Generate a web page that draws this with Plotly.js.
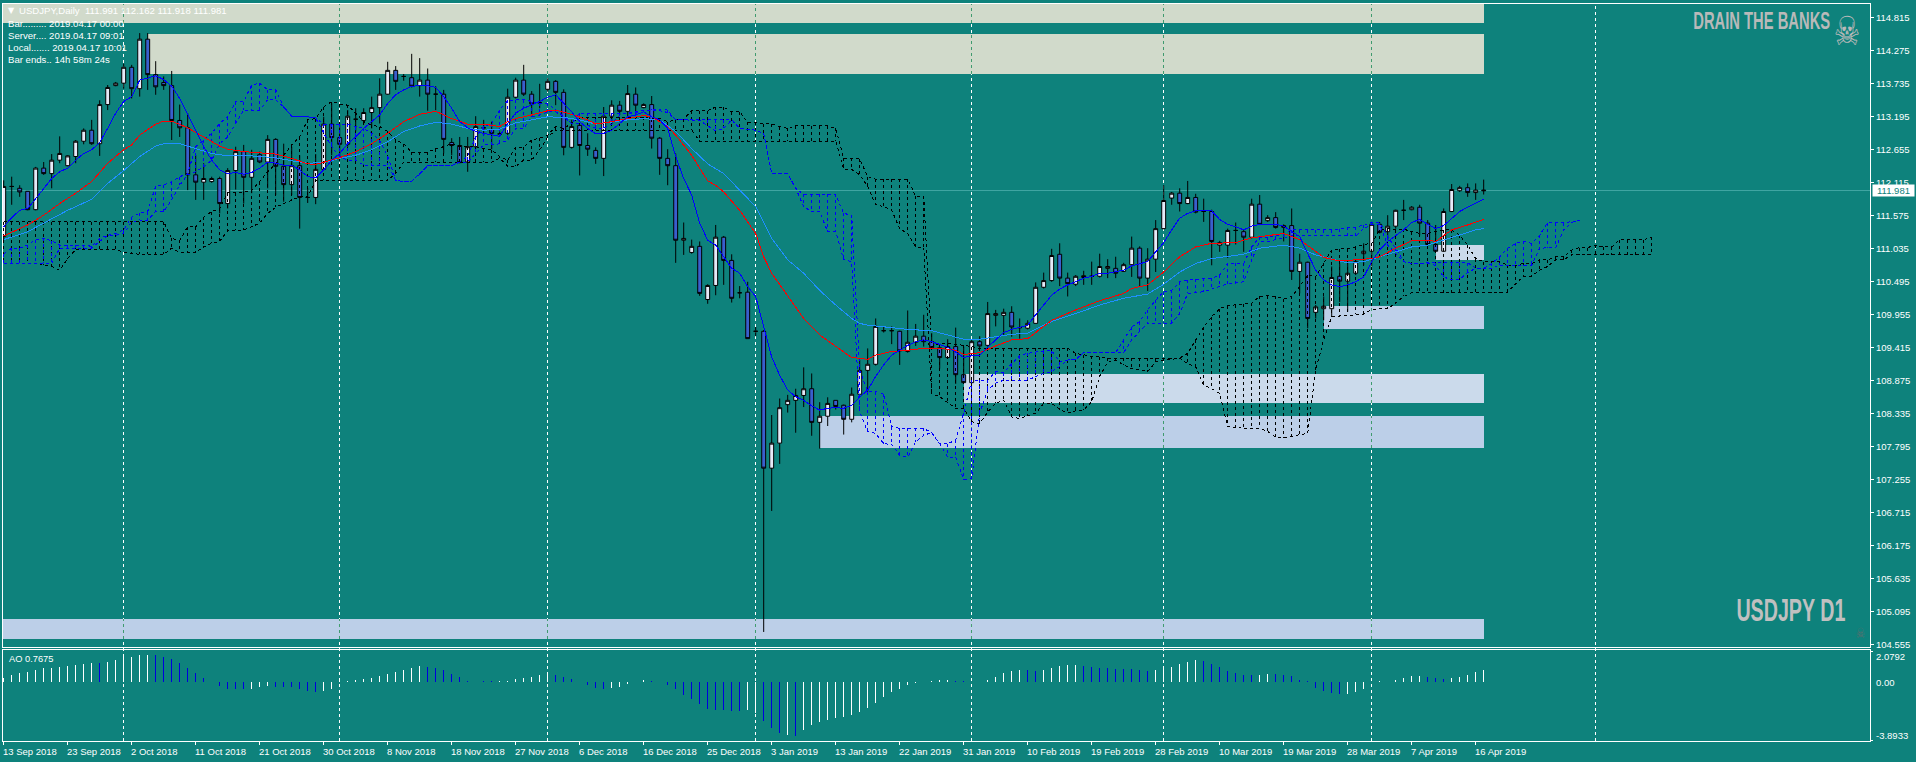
<!DOCTYPE html>
<html><head><meta charset="utf-8">
<script src="https://cdn.plot.ly/plotly-3.0.1.min.js"></script>
<style>html,body{margin:0;padding:0;background:#0e827c;overflow:hidden}
#chart .scatterlayer path,#chart .shapelayer path{shape-rendering:crispEdges}</style>
</head><body><div id="chart" style="width:1916px;height:762px"></div>
<script>
const openP=[
111.23,112.05,112.02,111.97,111.67,112.35,112.26,112.48,112.39,112.54,
112.79,112.97,112.75,113.39,113.70,113.74,114.00,113.65,114.46,113.88,
113.75,113.70,113.13,113.01,112.24,112.12,112.13,112.18,111.77,112.31,
112.62,112.20,112.57,112.45,112.82,112.38,112.08,112.39,111.87,111.87,
112.33,113.07,112.85,112.74,113.15,113.13,113.26,113.34,113.56,113.95,
113.85,113.83,113.70,113.79,113.56,113.56,112.77,112.72,112.45,112.70,
113.01,112.98,112.91,112.92,113.51,113.79,113.56,113.42,113.64,113.77,
113.59,112.69,113.05,112.72,112.64,112.51,113.20,113.38,113.28,113.56,
113.34,113.39,112.84,112.51,112.39,111.17,110.97,111.07,110.20,110.43,
111.22,110.84,110.31,110.32,109.68,109.68,107.44,107.85,108.48,108.55,
108.63,108.74,108.19,108.29,108.55,108.47,108.24,108.65,109.04,109.14,
109.69,109.69,109.68,109.35,109.50,109.60,109.51,109.41,109.25,109.43,
108.97,108.84,109.51,109.45,109.94,109.94,109.99,109.74,109.73,109.81,
110.40,110.51,110.94,110.55,110.45,110.56,110.58,110.58,110.71,110.71,
110.66,110.77,111.04,110.55,110.86,111.36,111.86,111.94,111.77,111.87,
111.64,111.64,111.09,111.09,111.33,111.31,111.22,111.76,111.49,111.54,
111.38,111.41,110.66,110.81,109.99,110.05,110.05,110.58,110.50,110.63,
110.95,110.99,111.43,111.31,111.40,111.66,111.67,111.71,111.45,111.10,
110.99,111.64,111.98,112.03,111.95,111.991];
const closeP=[
112.05,112.05,111.96,111.67,112.35,112.26,112.48,112.59,112.55,112.79,
112.97,112.75,113.39,113.67,113.74,114.00,113.65,114.46,113.88,113.68,
113.70,113.13,113.01,112.24,112.12,112.18,112.18,111.77,112.31,112.62,
112.20,112.51,112.45,112.82,112.38,112.08,112.39,111.87,111.87,112.33,
113.07,112.85,112.74,113.20,113.15,113.26,113.34,113.56,113.95,113.77,
113.85,113.69,113.79,113.56,113.56,112.82,112.72,112.44,112.70,113.03,
113.01,112.92,112.91,113.51,113.79,113.56,113.40,113.42,113.77,113.59,
112.69,113.03,112.72,112.66,112.51,113.20,113.38,113.28,113.57,113.38,
113.39,112.84,112.51,112.39,111.17,111.20,111.07,110.30,110.43,111.22,
110.84,110.22,110.31,109.56,109.68,107.44,107.85,108.43,108.55,108.63,
108.74,108.19,108.29,108.50,108.45,108.24,108.65,109.04,109.14,109.76,
109.69,109.69,109.36,109.50,109.60,109.51,109.41,109.25,109.43,108.97,
108.84,109.51,109.44,109.97,109.97,109.99,109.75,109.74,109.81,110.40,
110.51,110.92,110.55,110.46,110.58,110.59,110.58,110.74,110.74,110.63,
110.77,111.04,110.55,110.86,111.36,111.82,111.94,111.77,111.87,111.63,
111.64,111.15,111.13,111.33,111.33,111.22,111.76,111.43,111.54,111.38,
111.41,110.66,110.81,109.89,110.08,110.09,110.56,110.50,110.63,110.82,
110.99,111.43,111.30,111.40,111.66,111.66,111.71,111.45,111.10,110.99,
111.64,112.00,112.03,111.95,111.99,111.981];
const highP=[
112.15,112.21,112.07,111.97,112.37,112.45,112.58,112.87,112.56,112.81,
113.00,113.14,113.46,113.71,113.76,114.06,114.04,114.56,114.56,114.10,
113.85,113.94,113.39,113.25,112.56,112.43,112.21,112.21,112.35,112.70,
112.73,112.65,112.62,112.89,112.84,112.75,112.70,112.56,112.02,112.58,
113.19,113.41,113.08,113.30,113.33,113.33,113.52,113.82,114.09,114.02,
113.89,114.22,114.15,113.98,113.69,113.63,112.84,112.86,112.86,113.20,
113.14,113.11,112.95,113.65,113.83,114.04,113.61,113.73,113.82,113.79,
113.64,113.14,113.05,112.92,112.69,113.35,113.46,113.45,113.71,113.67,
113.41,113.53,112.86,112.66,112.59,111.46,111.18,111.15,110.45,111.42,
111.24,110.94,110.42,110.49,109.75,109.70,108.31,108.58,108.64,108.74,
109.09,108.99,108.52,108.60,108.55,108.48,108.76,109.21,109.40,109.89,
109.75,109.76,109.69,110.02,109.80,109.95,109.65,109.43,109.55,109.74,
109.43,109.55,109.60,110.16,110.03,110.05,110.09,109.89,109.86,110.48,
110.64,111.03,111.12,110.64,110.60,110.67,110.82,110.95,110.86,110.90,
110.80,111.23,111.07,111.04,111.50,112.07,111.96,112.02,112.14,111.93,
111.85,111.67,111.16,111.36,111.46,111.35,111.85,111.91,111.58,111.63,
111.43,111.69,110.95,110.82,110.11,110.25,110.74,110.79,110.82,110.85,
111.12,111.47,111.47,111.58,111.67,111.83,111.73,111.75,111.50,111.42,
111.69,112.09,112.06,112.10,112.10,112.162];
const lowP=[
111.17,111.75,111.88,111.66,111.66,112.24,112.02,112.43,112.38,112.43,
112.74,112.73,112.55,113.30,113.69,113.65,113.49,113.52,113.63,113.55,
113.63,112.81,112.86,111.99,111.83,111.83,112.11,111.61,111.69,112.00,
111.77,111.94,112.43,112.02,111.91,111.80,111.91,111.36,111.78,111.76,
112.32,112.56,112.54,112.70,112.95,113.08,113.00,113.08,113.55,113.63,
113.78,113.67,113.52,113.29,113.30,112.59,112.56,112.43,112.29,112.67,
112.89,112.66,112.87,112.89,113.49,113.53,113.19,113.33,113.60,113.38,
112.56,112.67,112.23,112.55,112.42,112.22,113.08,113.22,113.14,113.22,
113.33,112.67,112.24,112.07,110.80,110.93,110.95,110.26,110.13,110.27,
110.44,110.15,110.22,109.56,109.60,104.76,106.74,107.51,108.35,108.02,
108.44,107.97,107.76,108.13,108.40,107.99,108.19,108.64,108.69,109.12,
109.66,109.47,109.13,109.33,109.44,109.43,109.40,109.07,109.24,108.82,
108.84,108.83,109.40,109.43,109.76,109.62,109.59,109.56,109.71,109.81,
110.38,110.49,110.42,110.25,110.42,110.44,110.44,110.56,110.55,110.55,
110.65,110.57,110.42,110.34,110.65,111.35,111.75,111.64,111.76,111.61,
111.47,110.76,110.98,110.88,111.10,110.98,111.20,111.42,111.47,111.36,
111.15,110.52,110.30,109.73,109.89,109.86,109.92,110.16,110.00,110.60,
110.76,110.74,111.28,111.18,111.36,111.50,111.66,111.25,111.09,110.98,
110.98,111.63,111.96,111.88,111.83,111.918];
const maFast=[
111.39,111.54,111.66,111.69,111.85,112.02,112.18,112.29,112.35,112.48,
112.59,112.65,112.77,113.00,113.25,113.44,113.52,113.79,113.83,113.86,
113.80,113.69,113.49,113.22,112.95,112.70,112.48,112.32,112.26,112.28,
112.25,112.28,112.35,112.45,112.43,112.40,112.40,112.32,112.21,112.19,
112.32,112.48,112.59,112.75,112.86,113.00,113.11,113.22,113.41,113.55,
113.63,113.69,113.70,113.70,113.67,113.52,113.33,113.11,113.01,112.95,
112.92,112.89,112.87,113.08,113.25,113.33,113.38,113.44,113.51,113.55,
113.41,113.27,113.11,113.00,112.91,112.92,112.97,113.08,113.19,113.22,
113.27,113.19,113.14,113.00,112.54,112.18,111.91,111.45,111.17,111.09,
110.90,110.71,110.63,110.41,110.25,109.73,109.26,108.96,108.72,108.61,
108.55,108.46,108.39,108.42,108.43,108.42,108.47,108.60,108.72,108.94,
109.13,109.29,109.37,109.45,109.51,109.54,109.51,109.47,109.42,109.34,
109.25,109.28,109.29,109.42,109.54,109.66,109.71,109.74,109.78,109.95,
110.11,110.27,110.37,110.44,110.49,110.55,110.58,110.63,110.63,110.65,
110.68,110.75,110.78,110.82,110.98,111.13,111.34,111.53,111.61,111.65,
111.65,111.65,111.51,111.43,111.39,111.34,111.40,111.43,111.43,111.43,
111.40,111.31,111.23,110.95,110.68,110.52,110.44,110.41,110.44,110.49,
110.57,110.82,111.01,111.15,111.25,111.34,111.46,111.51,111.43,111.36,
111.41,111.53,111.64,111.71,111.77,111.84];
const maRedIdx=[0,3,5,7,9,11,13,15,16,17,19,20,21,23,25,27,28,30,32,34,36,38,39,41,42,44,46,48,50,52,54,56,58,60,62,63,64,66,68,69,71,73,74,76,78,80,81,83,84,86,88,89,90,92,94,95,96,98,100,102,104,106,107,108,109,111,113,115,117,119,120,122,124,126,128,131,134,137,140,141,143,145,147,149,151,154,156,158,160,162,164,165,167,171,172,174,176,178,179,181,183,185];
const maRed=[111.24,111.42,111.58,111.77,111.94,112.13,112.43,112.65,112.73,112.89,113.07,113.12,113.12,113.01,112.86,112.71,112.66,112.62,112.60,112.58,112.51,112.42,112.41,112.49,112.52,112.62,112.75,112.92,113.11,113.23,113.28,113.16,113.07,113.07,113.03,113.11,113.16,113.22,113.29,113.30,113.23,113.14,113.07,113.11,113.16,113.21,113.19,113.03,112.89,112.56,112.14,112.07,111.96,111.66,111.28,110.90,110.63,110.25,109.89,109.62,109.43,109.25,109.24,109.22,109.29,109.35,109.37,109.40,109.40,109.37,109.30,109.33,109.44,109.54,109.56,109.86,110.03,110.18,110.30,110.38,110.44,110.65,110.90,111.06,111.12,111.13,111.21,111.25,111.28,111.18,110.98,110.89,110.83,110.87,110.90,111.04,111.16,111.17,111.15,111.34,111.42,111.51];
const maSlowIdx=[0,3,5,8,11,13,15,17,19,20,22,24,26,28,30,32,34,36,38,40,42,44,46,48,50,52,54,56,58,60,62,64,66,68,70,72,74,76,78,80,82,84,86,88,90,92,94,96,98,100,102,104,106,107,108,111,113,116,118,120,122,124,126,128,131,134,137,140,143,145,147,149,151,155,157,160,162,164,166,168,170,172,176,178,180,182,184,185];
const maSlow=[111.18,111.31,111.45,111.66,111.84,112.10,112.31,112.54,112.71,112.75,112.75,112.67,112.59,112.55,112.56,112.54,112.52,112.47,112.43,112.44,112.51,112.56,112.65,112.78,112.95,113.04,113.10,113.07,113.00,112.97,112.99,113.09,113.14,113.19,113.18,113.14,113.07,113.11,113.14,113.16,113.14,112.95,112.67,112.42,112.26,111.99,111.72,111.20,110.85,110.63,110.35,110.11,109.89,109.81,109.78,109.74,109.71,109.69,109.62,109.55,109.55,109.59,109.63,109.65,109.84,109.97,110.11,110.22,110.29,110.45,110.65,110.79,110.87,110.94,111.04,111.09,111.04,110.93,110.86,110.80,110.82,110.90,111.06,111.09,111.17,111.25,111.34,111.36];
const blackTop=[
111.47,111.47,111.47,111.47,111.47,111.47,111.47,111.47,111.47,111.47,
111.47,111.47,111.47,111.47,111.47,111.47,111.47,111.47,111.47,111.47,
111.47,111.20,111.17,111.39,111.39,111.55,111.64,111.69,111.95,111.95,
111.96,111.99,112.13,112.29,112.43,112.56,112.73,112.86,113.14,113.16,
113.35,113.44,113.40,113.38,113.25,113.11,113.05,113.03,112.95,112.81,
112.75,112.61,112.61,112.61,112.67,112.70,112.75,112.70,112.70,112.70,
112.67,112.65,112.54,112.48,112.69,112.69,112.81,112.84,112.89,113.03,
113.00,113.08,113.18,113.18,113.18,113.18,113.18,113.18,113.18,113.18,
113.18,113.16,113.16,113.11,113.14,113.15,113.29,113.29,113.29,113.35,
113.35,113.27,113.27,113.10,113.10,113.08,113.07,113.03,113.00,113.04,
113.04,113.04,113.04,113.04,113.00,112.51,112.51,112.50,112.21,112.17,
112.17,112.17,112.17,112.17,111.89,111.89,109.43,109.48,109.48,109.47,
109.45,109.43,109.40,109.40,109.40,109.40,109.40,109.40,109.40,109.40,
109.40,109.40,109.40,109.40,109.32,109.29,109.27,109.26,109.24,109.24,
109.24,109.24,109.24,109.24,109.24,109.24,109.24,109.24,109.32,109.54,
109.75,109.92,110.05,110.10,110.11,110.13,110.14,110.25,110.26,110.25,
110.21,110.25,110.41,110.60,110.57,110.79,111.01,111.03,111.03,111.06,
111.10,111.12,111.34,111.36,111.34,111.35,111.31,111.28,111.28,111.31,
111.34,111.34,111.25,111.09,110.87,110.82,110.82,110.82,110.76,110.76,
110.79,110.79,110.85,110.85,110.90,110.90,111.01,111.05,111.05,111.09,
111.06,111.06,111.18,111.18,111.18,111.18,111.22];
const blackBottom=[
110.79,110.79,110.79,110.79,110.79,110.76,110.74,110.68,110.87,111.02,
111.02,111.02,111.02,111.02,111.02,110.97,110.95,110.94,110.94,110.94,
110.94,111.04,110.97,110.97,110.97,111.06,111.12,111.15,111.33,111.33,
111.34,111.39,111.45,111.61,111.71,111.77,111.83,111.88,111.88,112.15,
112.15,112.15,112.15,112.15,112.15,112.15,112.15,112.15,112.15,112.26,
112.45,112.45,112.45,112.45,112.45,112.45,112.45,112.45,112.45,112.45,
112.45,112.45,112.51,112.38,112.38,112.48,112.48,112.65,112.86,112.97,
112.97,112.97,112.97,112.97,112.97,112.97,112.97,112.97,112.97,112.97,
112.97,112.97,112.97,112.97,112.97,112.97,112.97,112.79,112.79,112.79,
112.79,112.79,112.79,112.79,112.79,112.79,112.79,112.79,112.79,112.79,
112.79,112.79,112.79,112.79,112.79,112.33,112.33,112.24,112.05,111.75,
111.72,111.66,111.36,111.28,111.06,111.05,108.66,108.61,108.52,108.42,
108.42,108.20,108.17,108.36,108.50,108.55,108.28,108.25,108.30,108.34,
108.50,108.50,108.40,108.34,108.38,108.39,108.53,108.94,109.18,109.21,
109.13,109.07,109.05,109.02,109.18,109.21,109.22,109.24,109.15,109.10,
108.80,108.74,108.66,108.12,108.11,108.09,108.09,108.09,108.04,107.95,
107.94,107.96,107.99,108.01,109.05,109.54,109.92,109.93,109.95,109.96,
109.96,110.04,110.05,110.05,110.14,110.25,110.31,110.31,110.31,110.31,
110.31,110.31,110.31,110.31,110.31,110.31,110.31,110.31,110.32,110.46,
110.58,110.58,110.68,110.74,110.85,110.85,110.93,110.93,110.93,110.93,
110.93,110.93,110.93,110.93,110.93,110.93,110.93];
const blueTop=[
110.95,111.04,111.04,111.09,111.18,111.20,111.16,111.09,111.09,111.09,
111.09,111.07,111.20,111.25,111.28,111.34,111.55,111.61,111.64,112.06,
112.07,112.13,112.21,112.26,112.70,112.81,112.92,113.08,113.19,113.44,
113.44,113.71,113.74,113.63,113.63,113.35,113.20,113.19,113.19,113.17,
113.07,113.07,113.07,113.07,113.03,113.00,112.92,112.81,112.54,112.15,
112.13,112.13,112.26,112.39,112.39,112.39,112.39,112.45,112.54,112.86,
113.03,113.08,113.30,113.46,113.47,113.47,113.44,113.41,113.41,113.30,
113.19,113.08,113.25,113.25,113.25,113.25,113.25,113.25,113.25,113.25,
113.27,113.31,113.31,113.30,113.14,113.14,113.14,113.13,113.13,113.13,
113.13,113.14,113.00,112.99,112.97,112.92,112.26,112.26,112.26,112.02,
111.92,111.92,111.92,111.92,111.92,111.61,111.58,109.05,108.69,108.69,
108.66,108.12,108.09,108.09,108.09,108.09,108.02,107.84,107.84,107.90,
108.34,108.88,108.88,108.88,109.02,109.00,109.15,109.28,109.32,109.34,
109.36,109.36,109.18,109.21,109.22,109.33,109.33,109.33,109.33,109.33,
109.54,109.75,109.84,110.03,110.19,110.33,110.35,110.49,110.52,110.53,
110.55,110.55,110.60,110.79,110.79,110.79,111.06,111.22,111.22,111.24,
111.28,111.34,111.34,111.34,111.34,111.34,111.34,111.35,111.38,111.38,
111.42,111.46,111.46,111.23,111.04,110.82,110.79,110.80,110.80,110.80,
110.80,110.80,110.80,110.80,110.71,110.71,110.79,110.90,111.04,111.12,
111.15,111.12,111.25,111.46,111.46,111.46,111.47,111.50];
const blueBottom=[
110.79,110.79,110.79,110.79,110.79,110.79,110.79,111.04,111.04,111.04,
111.04,111.04,111.15,111.25,111.25,111.28,111.47,111.50,111.50,111.64,
111.64,111.83,112.07,112.24,112.29,112.37,112.48,112.75,112.86,113.08,
113.30,113.30,113.30,113.47,113.47,113.35,113.20,113.19,113.19,113.17,
112.92,112.70,112.54,112.48,112.48,112.40,112.40,112.40,112.40,112.15,
112.13,112.13,112.26,112.39,112.39,112.39,112.39,112.45,112.45,112.59,
112.73,112.73,112.75,112.81,113.00,113.00,113.19,113.22,113.27,113.27,
113.19,113.08,113.08,113.05,113.00,113.00,113.07,113.22,113.26,113.27,
113.30,113.30,113.29,113.26,113.14,113.14,113.14,113.13,113.04,112.96,
113.00,113.14,113.00,112.99,112.97,112.92,112.26,112.26,112.26,112.02,
111.72,111.64,111.64,111.31,111.31,110.85,110.82,108.36,108.04,108.01,
107.84,107.83,107.65,107.62,107.87,107.98,108.02,107.84,107.62,107.62,
107.25,107.27,108.34,108.72,108.83,108.88,108.88,108.88,108.88,108.94,
108.99,109.02,109.10,109.21,109.22,109.33,109.33,109.33,109.33,109.33,
109.33,109.54,109.67,109.81,109.81,109.81,109.81,109.97,110.30,110.31,
110.33,110.37,110.41,110.46,110.47,110.49,110.85,111.15,111.15,111.18,
111.22,111.24,111.24,111.24,111.24,111.24,111.24,111.24,111.24,111.24,
111.36,111.43,111.43,111.09,110.95,110.82,110.79,110.79,110.79,110.76,
110.57,110.52,110.53,110.64,110.71,110.71,110.71,110.76,110.76,110.75,
110.75,110.76,111.04,111.05,111.05,111.34,111.46,111.50];
const aoValues=[
.27,.47,.61,.72,.81,.94,.94,1.03,1.10,1.17,
1.21,1.30,1.30,1.37,1.50,1.82,1.71,1.82,1.82,1.82,
1.68,1.55,1.28,.94,.61,.27,0,-.25,-.47,-.47,
-.47,-.47,-.31,-.27,-.34,-.34,-.34,-.47,-.61,-.65,
-.61,-.47,.20,.09,.13,.20,.27,.40,.54,.67,
.81,.94,1.08,1.01,.94,.81,.54,.34,.07,0,
.07,.07,.07,.07,.20,.27,.34,.47,.61,.47,
.34,.20,0,-.20,-.40,-.47,-.40,-.34,-.13,0,
.13,.07,0,-.20,-.47,-.88,-1.14,-1.48,-1.82,-1.89,
-1.89,-1.95,-1.95,-1.89,-2.04,-2.63,-3.10,-3.43,-3.57,-3.64,
-3.23,-2.90,-2.69,-2.56,-2.42,-2.36,-2.22,-2.02,-1.75,-1.41,
-1.01,-.67,-.47,-.20,-.07,0,.07,.18,.18,.11,
.07,0,.04,.18,.34,.61,.74,.81,.81,.74,
.81,.94,1.08,1.14,1.14,1.08,1.01,.94,.94,.88,
.88,.88,.81,.74,.81,1.01,1.01,1.21,1.35,1.48,
1.41,1.21,1.01,.74,.61,.47,.47,.47,.54,.54,
.47,.40,.13,.07,-.40,-.61,-.74,-.81,-.81,-.67,
-.47,0,.07,0,.13,.27,.40,.40,.34,.27,
.20,.27,.34,.47,.67,.81];
const aoKinds="wwwwwwwwww"+"wwbwwwwwwb"+"bbbbbbwbbb"+"bwwwbbbbbb"+"wwwwwwwwww"+"wwwbbbbbbw"+"bbwwwwwwwb"+"bbwbbbwwww"+"wbwbbbbbbb"+"bbbwwbbbwb"+"wwwwwwwwww"+"wwwwwwwwwb"+"bwwwwwwwbb"+"wwwwwbbbbb"+"bbbbwwwwww"+"bbbbbbbwwb"+"bbbbbbbbww"+"wwwwwwwwbb"+"bwwwww";
const dateLabels=["13 Sep 2018","23 Sep 2018","2 Oct 2018","11 Oct 2018","21 Oct 2018","30 Oct 2018","8 Nov 2018","18 Nov 2018","27 Nov 2018","6 Dec 2018","16 Dec 2018","25 Dec 2018","3 Jan 2019","13 Jan 2019","22 Jan 2019","31 Jan 2019","10 Feb 2019","19 Feb 2019","28 Feb 2019","10 Mar 2019","19 Mar 2019","28 Mar 2019","7 Apr 2019","16 Apr 2019"];
const dateIdx=[0,8,16,24,32,40,48,56,64,72,80,88,96,104,112,120,128,136,144,152,160,168,176,184];
const priceTicks=[104.555,105.095,105.635,106.175,106.715,107.255,107.795,108.335,108.875,109.415,109.955,110.495,111.035,111.575,112.115,112.655,113.195,113.735,114.275,114.815];
const monthLines=[15,42,68,94,121,145,171,199];
const zoneX0=[-0.09,18,179,165,120,102,-0.09];
const zoneX1=[185,185,185,185,185,185,185];
const zoneY0=[114.72,113.89,110.85,109.72,108.51,107.77,104.64];
const zoneY1=[115.05,114.55,111.09,110.09,108.98,108.30,104.97];
const zoneColors=["#d1dacb","#d1dacb","#cbdaeb","#bccfe8","#cbdaeb","#bccfe8","#bccfe8"];
const lastPrice=111.981;

const TEAL="#0e827c",WHITE="#ffffff",GREEN="#3f9a6e",FONT="Liberation Sans, Arial, sans-serif";
const px=x=>(x-3)/1867, py=y=>(741-y)/738;
const idx=a=>a.map((_,i)=>i);
function hatch(top,bottom){const x=[],y=[];top.forEach((t,i)=>{x.push(i,i,null);y.push(t,bottom[i],null);});return {x,y};}
const dash="3px,3px";
const hb=hatch(blackTop,blackBottom),hu=hatch(blueTop,blueBottom);
const line=(x,y,color,d)=>({type:"scatter",mode:"lines",x,y,xaxis:"x",yaxis:"y",hoverinfo:"skip",showlegend:false,line:{color,width:1,dash:d||"solid"}});
const traces=[
 {type:"candlestick",x:idx(openP),open:openP,high:highP,low:lowP,close:closeP,xaxis:"x",yaxis:"y",width:.52,whiskerwidth:0,showlegend:false,hoverinfo:"skip",
  increasing:{line:{color:"#000000",width:1},fillcolor:"#e6eaf8"},decreasing:{line:{color:"#000000",width:1},fillcolor:"#3a5fcd"}},
 line(hb.x,hb.y,"#000000",dash),line(idx(blackTop),blackTop,"#000000",dash),line(idx(blackBottom),blackBottom,"#000000",dash),
 line(hu.x,hu.y,"#0000ff",dash),line(idx(blueTop),blueTop,"#0000ff",dash),line(idx(blueBottom),blueBottom,"#0000ff",dash),
 line(maSlowIdx,maSlow,"#1e90ff"),line(maRedIdx,maRed,"#ff0000"),line(idx(maFast),maFast,"#0000ff"),
 {type:"bar",x:idx(aoValues),y:aoValues,xaxis:"x",yaxis:"y2",width:.13,showlegend:false,hoverinfo:"skip",
  marker:{color:aoValues.map((_,i)=>aoKinds[i]==="w"?"#ffffff":"#0000dd"),line:{width:0}}}
];
const shapes=[];
monthLines.forEach(m=>shapes.push({type:"line",layer:"below",xref:"x",yref:"paper",x0:m,x1:m,y0:0,y1:1,line:{color:WHITE,width:1,dash}}));
zoneX0.forEach((_,k)=>shapes.push({type:"rect",layer:"below",xref:"x",yref:"y",x0:zoneX0[k],x1:zoneX1[k],y0:zoneY0[k],y1:zoneY1[k],fillcolor:zoneColors[k],line:{width:0}}));
zoneX0.forEach((_,k)=>monthLines.forEach(m=>{if(m>zoneX0[k]&&m<zoneX1[k])shapes.push({type:"line",layer:"below",xref:"x",yref:"y",x0:m,x1:m,y0:zoneY0[k],y1:zoneY1[k],line:{color:GREEN,width:1,dash}});}));
shapes.push({type:"line",layer:"below",xref:"paper",yref:"y",x0:0,x1:1,y0:lastPrice,y1:lastPrice,line:{color:"#3fa5a2",width:1}});
shapes.push({type:"rect",xref:"paper",yref:"paper",x0:px(2.5),x1:px(1870),y0:py(647.3),y1:py(3),line:{color:WHITE,width:1}});
shapes.push({type:"rect",xref:"paper",yref:"paper",x0:px(2.5),x1:px(1870),y0:py(741),y1:py(649.7),line:{color:WHITE,width:1}});
const note=(x,y,text,size,color,family,extra)=>Object.assign({xref:"paper",yref:"paper",x:px(x),y:py(y),text,showarrow:false,xanchor:"left",yanchor:"middle",font:{size,color,family:family||FONT},borderpad:0},extra||{});
const annotations=[
 note(7,10.7,"▼",8,WHITE,"DejaVu Sans"),
 note(18,10.7,"USDJPY,Daily&nbsp;&nbsp;111.991 112.162 111.918 111.981",9.6,WHITE),
 note(7.3,23.7,"Bar......... 2019.04.17 00:00",9.6,WHITE),
 note(7.3,35.7,"Server.... 2019.04.17 09:01",9.6,WHITE),
 note(7.3,47.7,"Local....... 2019.04.17 10:01",9.6,WHITE),
 note(7.3,59.7,"Bar ends.. 14h 58m 24s",9.6,WHITE),
 note(1761.4,21,"<b>DRAIN THE BANKS</b>",23,"#b9b9b9",FONT,{xanchor:"center"}),
 note(1847,31,"☠",40,"#b9b9b9","DejaVu Sans",{xanchor:"center"}),
 note(1790.5,610.3,"<b>USDJPY D1</b>",31,"#c0c0c0",FONT,{xanchor:"center"}),
 note(1860,632.7,"☠",14,"#5b6f6f","DejaVu Sans",{xanchor:"center"}),
 note(7.5,659,"AO 0.7675",9.3,WHITE),
 {xref:"paper",yref:"y",x:px(1872),y:lastPrice,text:"111.981",showarrow:false,xanchor:"left",yanchor:"middle",bgcolor:WHITE,width:41,height:11,borderpad:0,font:{size:9.5,color:TEAL,family:FONT}},
 {xref:"paper",yref:"y2",x:px(1874),y:2.0792,yshift:-5,text:"2.0792",showarrow:false,xanchor:"left",font:{size:9.5,color:WHITE,family:FONT}},
 {xref:"paper",yref:"y2",x:px(1874),y:0,text:"0.00",showarrow:false,xanchor:"left",font:{size:9.5,color:WHITE,family:FONT}},
 {xref:"paper",yref:"y2",x:px(1874),y:-3.8933,yshift:5,text:"-3.8933",showarrow:false,xanchor:"left",font:{size:9.5,color:WHITE,family:FONT}}
];
dateLabels.forEach((t,k)=>annotations.push({xref:"x",yref:"paper",x:dateIdx[k],y:py(751),text:t,showarrow:false,xanchor:"left",yanchor:"middle",xshift:-3,font:{size:9.5,color:WHITE,family:FONT}}));
const layout={width:1916,height:762,margin:{l:3,r:46,t:3,b:21,pad:0},paper_bgcolor:TEAL,plot_bgcolor:TEAL,showlegend:false,hovermode:false,
 xaxis:{type:"linear",range:[-0.0875,233.29],anchor:"y2",rangeslider:{visible:false},showgrid:false,zeroline:false,showline:false,ticks:"outside",ticklen:3,tickcolor:WHITE,tickwidth:1,tickmode:"array",tickvals:dateIdx,showticklabels:false},
 yaxis:{domain:[py(647.3),1],range:[104.509,115.052],side:"right",anchor:"x",showgrid:false,zeroline:false,showline:false,ticks:"outside",ticklen:3,tickcolor:WHITE,tickwidth:1,tickmode:"array",tickvals:priceTicks,ticktext:priceTicks.map(v=>v.toFixed(3)),tickfont:{size:9.5,color:WHITE,family:FONT}},
 yaxis2:{domain:[0,py(649.7)],range:[-3.95,2.2],side:"right",anchor:"x",showgrid:false,zeroline:false,showline:false,ticks:"outside",ticklen:2,tickcolor:WHITE,tickwidth:1,tickmode:"array",tickvals:[2.0792,-3.8933],showticklabels:false},
 bargap:0,shapes,annotations};
const squeezeWidths={"DRAIN THE BANKS":137,"USDJPY D1":109,"☠":0};
Plotly.newPlot("chart",traces,layout,{staticPlot:true,displayModeBar:false,responsive:false}).then(gd=>{
 gd.querySelectorAll(".annotation-text").forEach(t=>{
  const key=t.textContent.trim();
  if(!(key in squeezeWidths))return;
  const bb=t.getBBox();
  const target=squeezeWidths[key]||bb.width*0.74;
  t.style.transformBox="fill-box";
  t.style.transformOrigin="center";
  t.style.transform="scaleX("+(target/bb.width)+")";
  const bg=t.parentNode.querySelector("rect.bg");
  if(bg){const w=+bg.getAttribute("width");bg.setAttribute("x",(+bg.getAttribute("x")||0)+(w-Math.min(w,target))/2);bg.setAttribute("width",Math.min(w,target));}
 });
});
</script></body></html>
